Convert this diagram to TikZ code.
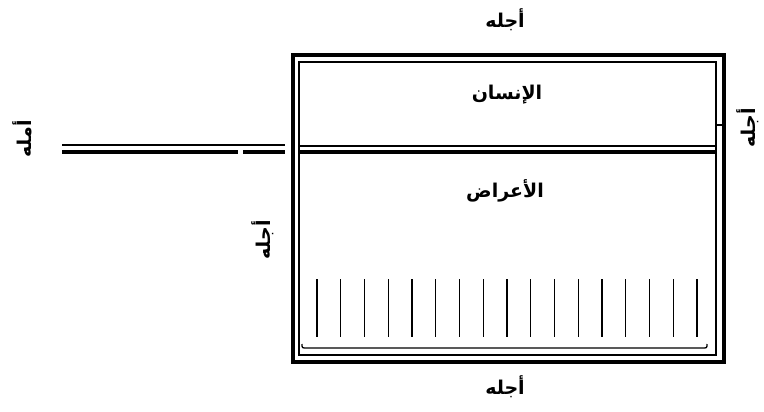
\documentclass[tikz,border=0pt]{standalone}
\usepackage{fontspec}
\newfontfamily\arabicfont[Script=Arabic]{DejaVu Sans}
\TeXXeTstate=1
\begin{document}
\begin{tikzpicture}[x=1pt,y=-1pt,
  lbl/.style={font=\arabicfont\bfseries\fontsize{19}{21}\selectfont, inner sep=0pt},
  thickln/.style={line width=4pt},
  thinln/.style={line width=1.1pt},
  hatch/.style={line width=1.3pt}]
\useasboundingbox (0,0) rectangle (764,412);
% outer frame
\draw[thickln] (293,55) rectangle (724,362);
\draw[thinln] (299,62) rectangle (716,355);
% right tick
\draw[thinln] (716,125) -- (722,125);
% divider
\draw[thinln] (299,146) -- (716,146);
\draw[thickln] (299,152) -- (716,152);
% left bar
\draw[thinln] (62,145) -- (285,145);
\draw[thickln] (62,152) -- (238,152);
\draw[thickln] (243,152) -- (285,152);
% hatch lines
\foreach \i in {0,...,16} {
  \draw[hatch] ({317+\i*23.75},279) -- ({317+\i*23.75},337);
}
% bottom inner line
\draw[line width=1.3pt] (302,344) .. controls (302,348) .. (307,348) -- (702,348) .. controls (707,348) .. (707,344);
% labels
\node[lbl] (top) at (505,20) {\beginR أجله\endR};
\node[lbl] (insan) at (507,95) {\beginR الإنسان\endR};
\node[lbl] (aarad) at (505,191) {\beginR الأعراض\endR};
\node[lbl] (bottom) at (505,387) {\beginR أجله\endR};
\node[lbl,rotate=90] (right) at (748,128) {\beginR أجله\endR};
\node[lbl,rotate=90] (inleft) at (263,240) {\beginR أجله\endR};
\node[lbl,rotate=90] (farleft) at (22,139) {\beginR أمله\endR};
\end{tikzpicture}
\end{document}
